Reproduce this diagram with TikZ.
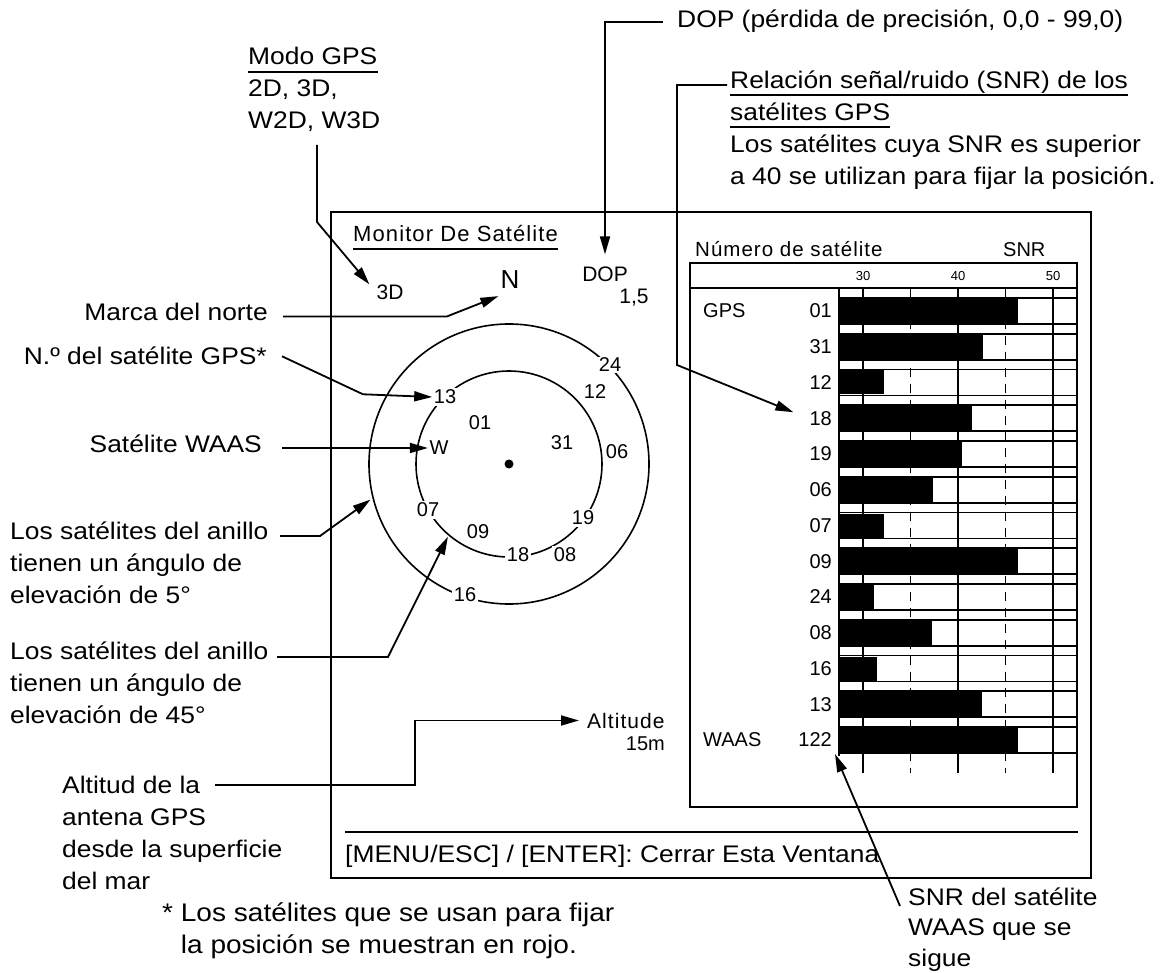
\documentclass[tikz,border=0pt]{standalone}
\usepackage{fontspec}
\setmainfont{Liberation Sans}
\newfontfamily\notefont{Liberation Sans}[FakeStretch=1.1]
\newfontfamily\spacedfont{Liberation Sans}[LetterSpace=5]
\usetikzlibrary{arrows.meta}

\tikzset{
    note/.style={font=\notefont\fontsize{24}{32}\selectfont, inner sep=0pt},
    screen/.style={font=\fontsize{20}{24}\selectfont, inner sep=0pt},
    spaced/.style={font=\spacedfont\fontsize{22}{26}\selectfont, inner sep=0pt},
    satnum/.style={font=\fontsize{20}{24}\selectfont, fill=white, inner sep=1.5pt},
    pointer/.style={line width=1.8pt, -{Triangle[length=18pt,width=10pt]}},
    screenframe/.style={line width=2pt},
    gridrule/.style={line width=1.6pt},
    rule/.style={line width=1.4pt},
}

\begin{document}
\begin{tikzpicture}[x=1pt,y=-1pt]
    \useasboundingbox (0,0) rectangle (1176,973);

    % Screen frame and key line
    \draw[screenframe] (331,212) rectangle (1091,878);
    \draw[rule] (345,832) -- (1078,832);
    \node[note, anchor=base west] (keys) at (345,862) {[MENU/ESC] / [ENTER]: Cerrar Esta Ventana};

    % Window title
    \node[spaced, anchor=base west] (title) at (353,242) {Monitor De Satélite};
    \draw[rule] ([yshift=-7pt]title.base west) -- ([yshift=-7pt]title.base east);

    % Mode, north mark and DOP value
    \node[screen, font=\fontsize{21}{24}\selectfont] (mode) at (390,292) {3D};
    \node[screen, font=\fontsize{26}{30}\selectfont] (north) at (510,280) {N};
    \node[screen, font=\fontsize{21}{24}\selectfont] (dop) at (605,274) {DOP};
    \node[screen, font=\fontsize{21}{24}\selectfont] (dopval) at (634,298) {1,5};

    % Sky plot
    \coordinate (ctr) at (509,464);
    \draw[gridrule] (ctr) circle[radius=140];
    \draw[gridrule] (ctr) circle[radius=93];
    \fill (ctr) circle[radius=4.5];
    \foreach \s/\px/\py in {24/610/365, 12/595/392, 13/445/397, 01/480/423, W/439/448,
        31/562/443, 06/617/452, 07/428/510, 09/478/532, 19/583/518, 18/518/555,
        08/565/555, 16/465/595}
        \node[satnum] (s\s) at (\px,\py) {\s};

    % Altitude
    \node[spaced, font=\spacedfont\fontsize{21}{24}\selectfont, anchor=base west] (alt) at (587,728) {Altitude};
    \node[screen, anchor=base east] (altval) at (665,750) {15m};

    % SNR chart
    \draw[screenframe] (690,263) rectangle (1077,807);
    \draw[screenframe] (690,288) -- (1077,288);
    \node[spaced, font=\spacedfont\fontsize{20.5}{24}\selectfont, anchor=base west] (numhead) at (695,257) {Número de satélite};
    \node[screen, anchor=base west] (snrhead) at (1003,257) {SNR};
    \foreach \v in {30,40,50}
        \node[font=\fontsize{13}{15}\selectfont, inner sep=0pt, anchor=base] (scale\v) at ({863+(\v-30)*9.5},281) {\v};
    \foreach \n/\v [count=\i from 0] in {01/46.3, 31/42.6, 12/32.2, 18/41.5, 19/40.4, 06/37.4,
        07/32.2, 09/46.3, 24/31.2, 08/37.3, 16/31.5, 13/42.5, 122/46.3}{
        \pgfmathsetmacro\rowy{298+\i*35.75}
        \draw[gridrule] (839,\rowy) rectangle (1077,{\rowy+26});
        \fill (839,{\rowy+1}) rectangle ({863+(\v-30)*9.5},{\rowy+25});
        \node[screen, anchor=east] (row\i) at (832,{\rowy+13}) {\n};
    }
    \foreach \v in {30,40,50}
        \draw[gridrule] ({863+(\v-30)*9.5},288) -- ++(0,485);
    \foreach \v in {35,45}
        \draw[gridrule, dash pattern=on 9pt off 7pt] ({863+(\v-30)*9.5},288) -- ++(0,485);
    \draw[gridrule] (839,288) -- (839,756);
    \node[screen, anchor=west] (gps) at (703,311) {GPS};
    \node[screen, anchor=west] (waas) at (703,740) {WAAS};

    % GPS mode note
    \node[note, anchor=base west] (modohead) at (248,65) {Modo GPS};
    \draw[rule] ([yshift=-7pt]modohead.base west) -- ([yshift=-7pt]modohead.base east);
    \node[note, anchor=base west, align=left] (modolist) at (248,129) {2D, 3D,\\W2D, W3D};
    \coordinate (modostart) at (317,145);
    \draw[pointer] (modostart) -- ++(0,77) -- ([xshift=-7pt]mode.north west);

    % DOP note
    \node[note, anchor=base west] (dopnote) at (677,28) {DOP (pérdida de precisión, 0,0 - 99,0)};
    \draw[pointer] ([xshift=-14pt]dopnote.west) -| ([yshift=12pt]dop.north);

    % SNR note
    \node[note, anchor=base west] (snrtitle) at (730,89) {Relación señal/ruido (SNR) de los};
    \node[note, anchor=base west] (snrtitle2) at (730,121) {satélites GPS};
    \node[note, anchor=base west, align=left] (snrtext) at (730,185) {Los satélites cuya SNR es superior\\a 40 se utilizan para fijar la posición.};
    \draw[rule] ([yshift=-6pt]snrtitle.base west) -- ([yshift=-6pt]snrtitle.base east);
    \draw[rule] ([yshift=-6pt]snrtitle2.base west) -- ([yshift=-6pt]snrtitle2.base east);
    \coordinate (snrbend) at (677,365);
    \draw[pointer] ([xshift=-3pt,yshift=4pt]snrtitle.base west) -| (snrbend) -- ([xshift=-16pt,yshift=6pt]row3.west);

    % Notes on the left
    \node[note, anchor=base east] (northnote) at (268,321) {Marca del norte};
    \draw[pointer] ([xshift=15pt,yshift=-4pt]northnote.east) -- ++(164,0) -- ([xshift=-2pt,yshift=-7pt]north.south west);
    \node[note, anchor=base east] (gpsnote) at (267,365) {N.º del satélite GPS*};
    \draw[pointer] ([xshift=15pt]gpsnote.east) -- ++(81,38) -- (s13.west);
    \node[note, anchor=base east] (waasnote) at (262,453) {Satélite WAAS};
    \draw[pointer] (sW.west -| waasnote.east) ++(20,0) -- (sW.west);

    \node[note, anchor=base west, align=left] (ring5note) at (10,603) {Los satélites del anillo\\tienen un ángulo de\\elevación de 5°};
    \coordinate (ring5start) at (280,536);
    \draw[pointer] (ring5start) -- ++(40,0) -- ([shift={(165.6:143)}]ctr);
    \node[note, anchor=base west, align=left] (ring45note) at (10,723) {Los satélites del anillo\\tienen un ángulo de\\elevación de 45°};
    \coordinate (ring45start) at (277,657);
    \draw[pointer] (ring45start) -- ++(111,0) -- ([shift={(130:95)}]ctr);

    \node[note, anchor=base west, align=left] (altnote) at (62,889) {Altitud de la\\antena GPS\\desde la superficie\\del mar};
    \coordinate (altstart) at (215,785);
    \draw[pointer] (altstart) -- ++(200,0) |- ([xshift=-8pt]alt.west);

    % Notes below the screen
    \node[note, anchor=base west, align=left, font=\notefont\fontsize{24}{30.5}\selectfont] (waassnrnote) at (908,966) {SNR del satélite\\WAAS que se\\sigue};
    \coordinate (waassnrstart) at (900,906);
    \draw[pointer] (waassnrstart) -- ([xshift=3pt,yshift=-14pt]row12.east);
    \node[note, anchor=base west, align=left, font=\notefont\fontsize{25.5}{32}\selectfont] (footnote) at (162,953) {* Los satélites que se usan para fijar\\\hphantom{* }la posición se muestran en rojo.};
\end{tikzpicture}
\end{document}
